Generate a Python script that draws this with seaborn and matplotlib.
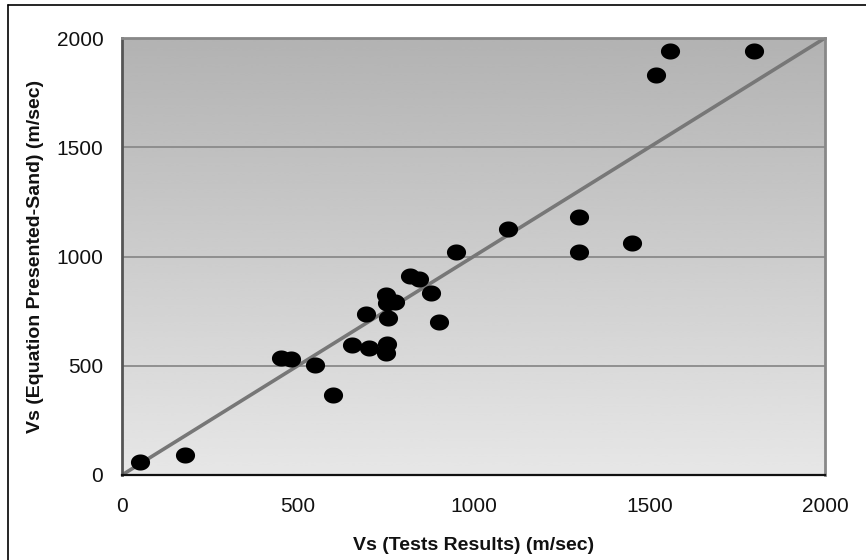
import numpy as np
import pandas as pd
import matplotlib
matplotlib.use("Agg")
import matplotlib.pyplot as plt
from matplotlib import font_manager
from matplotlib.path import Path
import seaborn as sns

# ---- data ----
vs_tests = [50, 180, 452, 481, 549, 601, 653, 702, 695, 750, 755, 758, 751, 755, 778,
            818, 846, 879, 902, 950, 1097, 1300, 1300, 1450, 1519, 1559, 1799]
vs_equation = [58, 90, 537, 531, 503, 368, 595, 581, 735, 557, 598, 717, 824, 789, 790,
               911, 896, 831, 700, 1021, 1126, 1182, 1022, 1063, 1831, 1940, 1940]
line_x = [0, 2000]
line_y = [0, 2000]
ticks = [0, 500, 1000, 1500, 2000]
tick_labels = ["0", "500", "1000", "1500", "2000"]
x_label = "Vs (Tests Results) (m/sec)"
y_label = "Vs (Equation Presented-Sand) (m/sec)"

sns.set_theme(style="white")
names = {f.name for f in font_manager.fontManager.ttflist}
base_font = "Liberation Sans" if "Liberation Sans" in names else "DejaVu Sans"
plt.rcParams["font.family"] = [base_font, "DejaVu Sans"]

fig = plt.figure(figsize=(8.66, 5.6), dpi=100)
ax = fig.add_axes([122 / 866, 1 - 475 / 560, 703 / 866, 437 / 560])

# gradient background
grad = np.linspace(0.70, 0.905, 256).reshape(-1, 1)
ax.imshow(grad, extent=[0, 2000, 0, 2000], origin="upper", cmap="gray",
          vmin=0, vmax=1, aspect="auto", zorder=0, interpolation="bicubic")

for t in ticks[1:-1]:
    ax.axhline(t, color="#8a8a8a", lw=1.3, zorder=1)

df = pd.DataFrame({"x": vs_tests, "y": vs_equation})
ln = pd.DataFrame({"x": line_x, "y": line_y})
sns.lineplot(data=ln, x="x", y="y", ax=ax, color="#777777", lw=2.6, zorder=2)

theta = np.linspace(0, 2 * np.pi, 60)
ell = Path(np.column_stack([np.cos(theta), 0.84 * np.sin(theta)]), closed=True)
sns.scatterplot(data=df, x="x", y="y", ax=ax, marker=ell, s=190, color="black",
                edgecolor="black", linewidth=0, zorder=3)

ax.set_xlim(0, 2000)
ax.set_ylim(0, 2000)
ax.set_xticks(ticks)
ax.set_xticklabels(tick_labels)
ax.set_yticks(ticks)
ax.set_yticklabels(tick_labels)
ax.tick_params(axis="both", length=0, labelsize=15, colors="#111111")
ax.tick_params(axis="x", pad=16)
ax.tick_params(axis="y", pad=13.5)

ax.set_xlabel(x_label, fontsize=14, fontweight="bold", labelpad=15, color="#111111")
ax.set_ylabel(y_label, fontsize=14, fontweight="bold", labelpad=9, color="#111111")

for side, col, w in [("left", "#555555", 2.0), ("bottom", "#111111", 1.6),
                     ("top", "#888888", 2.0), ("right", "#888888", 2.0)]:
    ax.spines[side].set_visible(True)
    ax.spines[side].set_color(col)
    ax.spines[side].set_linewidth(w)

# outer border (left and top visible)
fig.add_artist(plt.Line2D([8 / 866, 8 / 866], [0, 1 - 5 / 560], transform=fig.transFigure,
                          color="black", lw=1.2))
fig.add_artist(plt.Line2D([8 / 866, 1], [1 - 5 / 560, 1 - 5 / 560], transform=fig.transFigure,
                          color="black", lw=1.2))

fig.savefig("out.png", dpi=100, facecolor="white")
